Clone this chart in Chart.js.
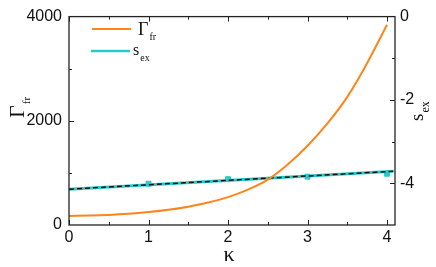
<!DOCTYPE html>
<html>
<head>
<meta charset="utf-8">
<script src="https://cdn.jsdelivr.net/npm/chart.js@4.4.1/dist/chart.umd.min.js"></script>
<style>
  html, body { margin: 0; padding: 0; background: #fff; }
  #wrap { width: 436px; height: 267px; }
</style>
</head>
<body>
<div id="wrap"><canvas id="myChart" width="436" height="267"></canvas></div>
<script>
// Gamma_fr curve (left axis)
const kappa = [0, 0.25, 0.5, 0.75, 1, 1.25, 1.5, 1.75, 2, 2.25, 2.5, 2.75, 3, 3.25, 3.5, 3.75, 4];
const gammaFr = [174, 180, 193, 215, 248, 292, 352, 430, 535, 680, 870, 1160, 1520, 1950, 2460, 3110, 3845];

// s_ex points and fit line (right axis)
const sexKappa = [1, 2, 3, 4];
const sexValues = [-4.01, -3.9, -3.84, -3.77];
const fitKappa = [0, 4.08];
const fitValues = [-4.14, -3.71];

// tick labels
const xTicks = [0, 1, 2, 3, 4];
const leftTicks = [0, 2000, 4000];
const rightTicks = [0, -2, -4];

const orange = '#ff8419';
const cyan = '#2bcaca';
const serif = "'Liberation Serif', 'DejaVu Serif', serif";
const sans = "'Liberation Sans', Arial, sans-serif";

const toXY = (xs, ys) => xs.map((x, i) => ({ x: x, y: ys[i] }));
const plain = v => String(v);

function drawSub(ctx, x, y, main, sub, mainSize, subSize, drop) {
  ctx.font = mainSize + 'px ' + serif;
  ctx.fillText(main, x, y);
  const w = ctx.measureText(main).width;
  ctx.font = subSize + 'px ' + serif;
  ctx.fillText(sub, x + w + 1, y + drop);
}

// frame, inward ticks, legend and titles
const decor = {
  id: 'decor',
  afterDraw(chart) {
    const ctx = chart.ctx;
    const a = chart.chartArea;
    const sx = chart.scales.x, sy = chart.scales.y, sy2 = chart.scales.y2;
    ctx.save();
    ctx.strokeStyle = '#222';
    ctx.lineWidth = 1.3;
    ctx.strokeRect(a.left, a.top, a.right - a.left, a.bottom - a.top);

    ctx.lineWidth = 1;
    ctx.beginPath();
    for (let v = 0; v <= 4; v += 0.5) {
      const px = Math.round(sx.getPixelForValue(v)) + 0.5;
      const len = v % 1 === 0 ? 5 : 3;
      ctx.moveTo(px, a.bottom); ctx.lineTo(px, a.bottom - len);
      ctx.moveTo(px, a.top); ctx.lineTo(px, a.top + len);
    }
    for (let v = 1000; v < 4000; v += 1000) {
      const py = Math.round(sy.getPixelForValue(v)) + 0.5;
      const len = v % 2000 === 0 ? 5 : 3;
      ctx.moveTo(a.left, py); ctx.lineTo(a.left + len, py);
    }
    for (let v = -1; v > -5; v -= 1) {
      const py = Math.round(sy2.getPixelForValue(v)) + 0.5;
      const len = v % 2 === 0 ? 5 : 3;
      ctx.moveTo(a.right, py); ctx.lineTo(a.right - len, py);
    }
    ctx.stroke();

    // legend
    ctx.lineWidth = 2;
    ctx.strokeStyle = orange;
    ctx.beginPath(); ctx.moveTo(92, 29); ctx.lineTo(131, 29); ctx.stroke();
    ctx.lineWidth = 2.5;
    ctx.strokeStyle = cyan;
    ctx.beginPath(); ctx.moveTo(91, 51); ctx.lineTo(130, 51); ctx.stroke();
    ctx.fillStyle = '#111';
    ctx.textBaseline = 'alphabetic';
    drawSub(ctx, 138, 35, 'Γ', 'fr', 18, 10, 5);
    drawSub(ctx, 133, 55, 's', 'ex', 16, 10, 6);

    // axis titles
    ctx.save();
    ctx.translate(24, 118);
    ctx.rotate(-Math.PI / 2);
    drawSub(ctx, 0, 0, 'Γ', 'fr', 22, 11, 6);
    ctx.restore();
    ctx.save();
    ctx.translate(423, 121);
    ctx.rotate(-Math.PI / 2);
    drawSub(ctx, 0, 0, 's', 'ex', 19, 12, 6);
    ctx.restore();
    ctx.font = '22px ' + serif;
    ctx.textAlign = 'center';
    ctx.fillText('κ', 229, 261);
    ctx.restore();
  }
};

let myChart = new Chart(
  document.getElementById('myChart'),
  {
    type: 'scatter',
    data: {
      datasets: [
        {
          label: 'Γfr',
          data: toXY(kappa, gammaFr),
          yAxisID: 'y',
          showLine: true,
          borderColor: orange,
          borderWidth: 2,
          pointRadius: 0,
          tension: 0.4,
          order: 0
        },
        {
          label: 'fit',
          data: toXY(fitKappa, fitValues),
          yAxisID: 'y2',
          showLine: true,
          borderColor: '#111',
          borderWidth: 1.5,
          borderDash: [5, 3],
          pointRadius: 0,
          order: 1
        },
        {
          label: 'sex points',
          data: toXY(sexKappa, sexValues),
          yAxisID: 'y2',
          pointStyle: 'rect',
          pointRadius: 3.5,
          backgroundColor: cyan,
          borderColor: cyan,
          order: 2
        },
        {
          label: 'sex',
          data: toXY(fitKappa, fitValues),
          yAxisID: 'y2',
          showLine: true,
          borderColor: cyan,
          borderWidth: 3,
          pointRadius: 0,
          order: 3
        }
      ]
    },
    options: {
      responsive: false,
      animation: false,
      layout: { padding: { top: 11 } },
      plugins: { legend: { display: false }, tooltip: { enabled: false } },
      scales: {
        x: {
          type: 'linear',
          min: 0,
          max: 4.1,
          afterBuildTicks: s => { s.ticks = xTicks.map(v => ({ value: v })); },
          afterFit: s => { s.height = 42; },
          grid: { display: false, drawTicks: false },
          border: { display: false },
          ticks: { color: '#111', font: { family: sans, size: 16 }, padding: 3, callback: plain }
        },
        y: {
          position: 'left',
          min: 0,
          max: 4000,
          afterBuildTicks: s => { s.ticks = leftTicks.map(v => ({ value: v })); },
          afterFit: s => { s.width = 69; },
          grid: { display: false, drawTicks: false },
          border: { display: false },
          ticks: { color: '#111', font: { family: sans, size: 16 }, padding: 7, callback: plain }
        },
        y2: {
          position: 'right',
          min: -5,
          max: 0,
          afterBuildTicks: s => { s.ticks = rightTicks.map(v => ({ value: v })); },
          afterFit: s => { s.width = 41; },
          grid: { display: false, drawTicks: false },
          border: { display: false },
          ticks: { color: '#111', font: { family: sans, size: 16 }, padding: 5, callback: plain }
        }
      }
    },
    plugins: [decor]
  }
);
</script>
</body>
</html>
